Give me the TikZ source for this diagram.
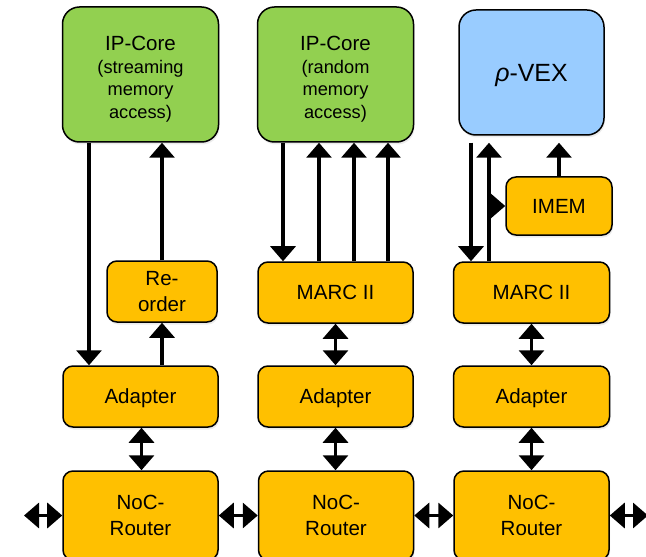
\documentclass[tikz,border=0pt]{standalone}
\usepackage{fontspec}
\setmainfont{Liberation Sans}
\usetikzlibrary{arrows.meta,shadows}
\definecolor{ipgreen}{HTML}{92D050}
\definecolor{vexblue}{HTML}{99CCFF}
\definecolor{orng}{HTML}{FFC000}
\newcommand\mainfs{\fontsize{20.6}{26}\selectfont}
\newcommand\subfs{\fontsize{18.3}{22.5}\selectfont}
\begin{document}
\begin{tikzpicture}[x=1bp,y=-1bp,
  box/.style={draw=black, line width=1.5bp, inner sep=0pt,
    drop shadow={shadow xshift=1bp, shadow yshift=-2.5bp, opacity=0.15}},
  obox/.style={box, fill=orng, rounded corners=10bp, minimum width=155bp,
    minimum height=61bp, font=\mainfs, align=center},
  onebox/.style={obox, text height=14.8bp, text depth=0pt},
  ipbox/.style={box, fill=ipgreen, rounded corners=17bp, minimum width=156bp,
    minimum height=135bp},
  iptext/.style={anchor=north, inner sep=0pt, align=center, font=\subfs},
  arr/.style={line width=3.3bp, -{Triangle[width=25bp,length=15bp]}},
  darr/.style={line width=3.3bp,
    {Triangle[width=25bp,length=15bp]}-{Triangle[width=25bp,length=15bp]}}
]
\useasboundingbox (0,0) rectangle (646,557);
\clip (0,0) rectangle (646,557);

% top row
\node[ipbox] (ip1) at (140.5,74.5) {};
\node[iptext] (ip1t) at ([yshift=-30bp]ip1.north)
  {{\fontsize{20.6}{22.5}\selectfont IP-Core}\\(streaming\\memory\\access)};
\node[ipbox] (ip2) at (335.5,74.5) {};
\node[iptext] (ip2t) at ([yshift=-30bp]ip2.north)
  {{\fontsize{20.6}{22.5}\selectfont IP-Core}\\(random\\memory\\access)};
\node[box, fill=vexblue, rounded corners=17bp, minimum width=145bp,
  minimum height=125bp, font=\fontsize{25}{30}\selectfont,
  text height=18bp, text depth=0pt] (vex) at (531.5,72.5) {\textit{ρ}-VEX};

% middle boxes
\node[onebox, minimum width=106bp, minimum height=58bp] (imem) at (559,206) {IMEM};
\node[obox, minimum width=110bp] (reord) at (162,291.5) {Re-\\order};
\node[onebox] (marc1) at (335.5,292.5) {MARC II};
\node[onebox, minimum width=156bp] (marc2) at (531.5,292.5) {MARC II};
\node[onebox] (ad1) at (140.5,396.5) {Adapter};
\node[onebox] (ad2) at (335.5,396.5) {Adapter};
\node[onebox, minimum width=156bp] (ad3) at (531.5,396.5) {Adapter};

% routers
\node[obox, minimum height=89bp] (r1) at (140.5,515.5) {NoC-\\Router};
\node[obox, minimum height=89bp] (r2) at (336,515.5) {NoC-\\Router};
\node[obox, minimum height=89bp] (r3) at (531.5,515.5) {NoC-\\Router};
\coordinate (lw) at (24,515.5);
\coordinate (re) at (648,515.5);

% column 1
\draw[arr] ([xshift=-51.5bp]ip1.south) -- ([xshift=-51.5bp]ad1.north);
\draw[arr] (reord.north) -- (ip1.south -| reord.north);
\draw[arr] (ad1.north -| reord.south) -- (reord.south);
\draw[darr] ([xshift=1bp]ad1.south) -- ([xshift=1bp]r1.north);

% column 2
\draw[arr] ([xshift=-52.5bp]ip2.south) -- ([xshift=-52.5bp]marc1.north);
\draw[arr] ([xshift=-16.5bp]marc1.north) -- ([xshift=-16.5bp]ip2.south);
\draw[arr] ([xshift=18.5bp]marc1.north) -- ([xshift=18.5bp]ip2.south);
\draw[arr] ([xshift=52.5bp]marc1.north) -- ([xshift=52.5bp]ip2.south);
\draw[darr] (marc1.south) -- (ad2.north);
\draw[darr] (ad2.south) -- (ad2.south |- r2.north);

% column 3
\draw[arr, shorten <=7bp] ([xshift=-60.5bp]vex.south) -- ([xshift=-60.5bp]marc2.north);
\draw[arr, shorten >=7bp] ([xshift=-42.5bp]marc2.north) -- ([xshift=-42.5bp]vex.south);
\draw[arr] ([xshift=-17bp]imem.west) -- (imem.west);
\draw[arr, shorten >=7bp] (imem.north) -- (vex.south -| imem.north);
\draw[darr] (marc2.south) -- (ad3.north);
\draw[darr] (ad3.south) -- (r3.north);

% router links
\draw[darr] (lw) -- (r1.west);
\draw[darr] (r1.east) -- (r2.west);
\draw[darr] (r2.east) -- (r3.west);
\draw[darr] (r3.east) -- (re);
\end{tikzpicture}
\end{document}
